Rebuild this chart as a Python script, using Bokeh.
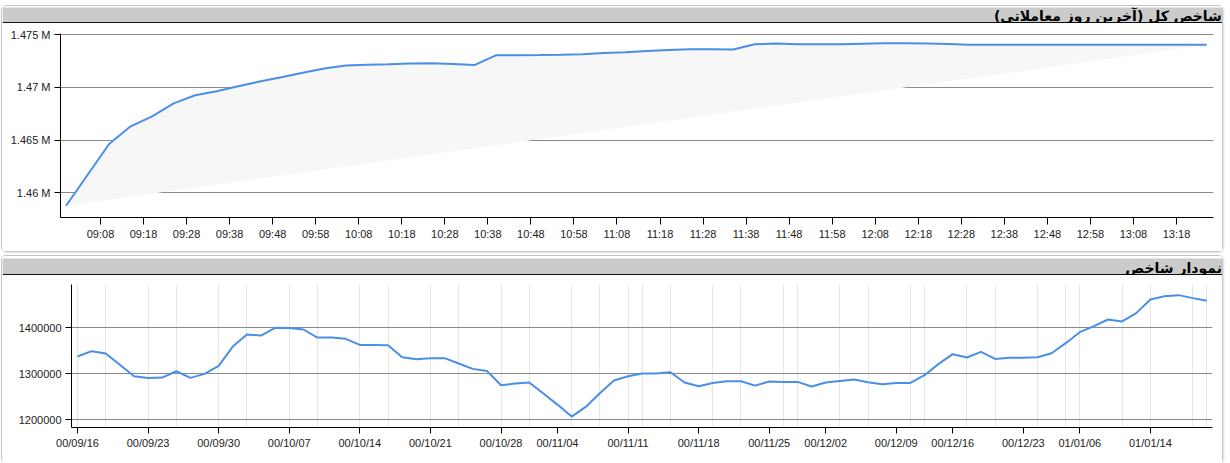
from bokeh.plotting import figure
from bokeh.models import Range1d, FixedTicker
from bokeh.layouts import column, row
from bokeh.core.properties import value
from bokeh.embed import file_html
from bokeh.resources import INLINE

# ---------------- data: intraday index (last trading day) ----------------
top_title = "شاخص کل (آخرین روز معاملاتی)\u200f"
top_times = ["09:00", "09:10", "09:15", "09:20", "09:25", "09:30", "09:35", "09:40",
             "09:45", "09:50", "09:55", "10:00", "10:05", "10:10", "10:15", "10:20",
             "10:25", "10:30", "10:35", "10:40", "10:45", "10:50", "10:55", "11:00",
             "11:05", "11:10", "11:15", "11:20", "11:25", "11:30", "11:35", "11:40",
             "11:45", "11:50", "11:55", "12:00", "12:05", "12:10", "12:15", "12:20",
             "12:25", "12:30", "12:35", "12:40", "12:45", "12:50", "12:55", "13:00",
             "13:05", "13:10", "13:15", "13:20", "13:25"]
top_values = [1458770, 1464630, 1466300, 1467250, 1468480, 1469240, 1469620, 1470090,
              1470540, 1470950, 1471370, 1471770, 1472060, 1472130, 1472180, 1472250,
              1472280, 1472200, 1472120, 1473040, 1473040, 1473050, 1473080, 1473130,
              1473240, 1473330, 1473430, 1473520, 1473610, 1473600, 1473580, 1474080,
              1474150, 1474080, 1474080, 1474080, 1474120, 1474160, 1474170, 1474150,
              1474090, 1474030, 1474020, 1474020, 1474020, 1474020, 1474020, 1474020,
              1474020, 1474020, 1474020, 1474020, 1474020]
top_x_labels = ["09:08", "09:18", "09:28", "09:38", "09:48", "09:58", "10:08", "10:18",
                "10:28", "10:38", "10:48", "10:58", "11:08", "11:18", "11:28", "11:38",
                "11:48", "11:58", "12:08", "12:18", "12:28", "12:38", "12:48", "12:58",
                "13:08", "13:18"]
top_y_ticks = [1460000, 1465000, 1470000, 1475000]
top_y_labels = ["1.46 M", "1.465 M", "1.47 M", "1.475 M"]

# ---------------- data: daily index chart ----------------
bottom_title = "نمودار شاخص"
bottom_values = [1337700, 1349300, 1344200, 1320000, 1294900, 1291300, 1292000, 1305800,
                 1291300, 1300000, 1317400, 1359400, 1385500, 1383300, 1400000, 1399600,
                 1396400, 1379000, 1379000, 1376100, 1363000, 1363000, 1362300, 1336200,
                 1331900, 1334100, 1334100, 1322500, 1310900, 1306500, 1275400, 1279000,
                 1281200, 1257300, 1233300, 1207300, 1228300, 1258000, 1285500, 1294900,
                 1300700, 1300700, 1303600, 1281200, 1273200, 1280400, 1284100, 1284100,
                 1274600, 1283300, 1282600, 1282600, 1272500, 1281200, 1284800, 1287700,
                 1281900, 1277500, 1280400, 1280400, 1297100, 1321700, 1342800, 1335500,
                 1347800, 1332600, 1334800, 1334800, 1336200, 1344900, 1366700, 1390600,
                 1403600, 1418100, 1413800, 1431900, 1461600, 1468800, 1471000, 1464500,
                 1458700]
bottom_tick_idx = [0, 5, 10, 15, 20, 25, 30, 34, 39, 44, 49, 53, 58, 62, 67, 71, 76]
bottom_tick_labels = ["00/09/16", "00/09/23", "00/09/30", "00/10/07", "00/10/14",
                      "00/10/21", "00/10/28", "00/11/04", "00/11/11", "00/11/18",
                      "00/11/25", "00/12/02", "00/12/09", "00/12/16", "00/12/23",
                      "01/01/06", "01/01/14"]
bottom_vgrid_idx = [0, 2, 5, 7, 10, 12, 15, 17, 20, 22, 25, 27, 30, 32, 35, 37, 39, 40,
                    42, 45, 47, 50, 51, 54, 56, 59, 60, 63, 65, 68, 70, 71, 74, 76, 79, 80]
bottom_y_ticks = [1200000, 1300000, 1400000]
bottom_y_labels = ["1200000", "1300000", "1400000"]

# ---------------- styling ----------------
W = 1220
LINE = "#4a8fe7"
GRID = "#8a8a8a"
LABEL_FONT = "Liberation Sans"
TITLE_FONT = "DejaVu Sans"


def to_min(s):
    h, m = s.split(":")
    return int(h) * 60 + int(m)


def make_header(text, height, white_top, black=1.5):
    h = figure(width=W, height=height, x_range=Range1d(0, 1), y_range=Range1d(0, height),
               toolbar_location=None, output_backend="svg", min_border=0,
               x_axis_location=None, y_axis_location=None,
               outline_line_color=None, background_fill_color="#ffffff",
               border_fill_color="#ffffff")
    h.grid.visible = False
    h.quad(left=[0], right=[1], bottom=[black], top=[height - white_top],
           fill_color="#cbcbcb", line_color=None)
    h.quad(left=[0], right=[1], bottom=[0], top=[black], fill_color="#111111", line_color=None)
    h.text(x=[0.9995], y=[0], text=[text], text_align="right",
           text_baseline="bottom", text_font=value(TITLE_FONT),
           text_font_size="14px", text_font_style="bold", text_color="#000000")
    return h


def style_axes(p, label_size="11px"):
    for ax in (p.xaxis[0], p.yaxis[0]):
        ax.axis_line_color = "#000000"
        ax.axis_line_width = 1
        ax.major_tick_line_color = "#000000"
        ax.minor_tick_line_color = None
        ax.major_tick_in = 0
        ax.major_label_text_font = LABEL_FONT
        ax.major_label_text_font_size = label_size
        ax.major_label_text_color = "#222222"
    p.xaxis.major_tick_out = 7
    p.xaxis.major_label_standoff = 3
    p.yaxis.major_tick_out = 6
    p.yaxis.major_label_standoff = 4


PANEL = {"border": "1px solid #c4c4c4", "border-radius": "5px",
         "box-shadow": "1px 1px 2px #dddddd", "margin-left": "1px"}

# ---------------- top panel ----------------
header1 = make_header(top_title, 17, 1)

tx = [to_min(t) for t in top_times]
p1 = figure(width=W, height=228, x_range=Range1d(538.71, 806.6),
            y_range=Range1d(1457661, 1475095), toolbar_location=None,
            output_backend="svg", min_border_left=58, min_border_right=9,
            min_border_top=10, min_border_bottom=34, outline_line_color=None,
            background_fill_color="#ffffff", border_fill_color="#ffffff")
p1.patch(x=tx, y=top_values, fill_color="#f7f7f7", line_color=None)
p1.line(x=tx, y=top_values, line_color=LINE, line_width=2)

xt1 = FixedTicker(ticks=[to_min(s) for s in top_x_labels])
p1.xaxis.ticker = xt1
p1.xaxis.major_label_overrides = {to_min(s): s for s in top_x_labels}
yt1 = FixedTicker(ticks=top_y_ticks)
p1.yaxis.ticker = yt1
p1.yaxis.major_label_overrides = dict(zip(top_y_ticks, top_y_labels))
p1.xgrid.visible = False
p1.ygrid.ticker = yt1
p1.ygrid.grid_line_color = GRID
style_axes(p1)

# ---------------- bottom panel ----------------
header2 = make_header(bottom_title, 19, 2)

bx = list(range(len(bottom_values)))
p2 = figure(width=W, height=188, x_range=Range1d(-0.425, 80.40),
            y_range=Range1d(1183600, 1494100), toolbar_location=None,
            output_backend="svg", min_border_left=69, min_border_right=10,
            min_border_top=9, min_border_bottom=36, outline_line_color=None,
            background_fill_color="#ffffff", border_fill_color="#ffffff")
p2.line(x=bx, y=bottom_values, line_color=LINE, line_width=2)

xt2 = FixedTicker(ticks=bottom_tick_idx)
p2.xaxis.ticker = xt2
p2.xaxis.major_label_overrides = dict(zip(bottom_tick_idx, bottom_tick_labels))
yt2 = FixedTicker(ticks=bottom_y_ticks)
p2.yaxis.ticker = yt2
p2.yaxis.major_label_overrides = dict(zip(bottom_y_ticks, bottom_y_labels))
p2.xgrid.ticker = FixedTicker(ticks=bottom_vgrid_idx)
p2.xgrid.grid_line_color = "#e6e6e6"
p2.ygrid.ticker = yt2
p2.ygrid.grid_line_color = GRID
style_axes(p2)
p2.xaxis.major_tick_out = 6

panel1 = column(row(header1), row(p1), spacing=0,
                styles=dict(PANEL, **{"margin-top": "5px"}))
panel2 = column(row(header2), row(p2), spacing=0,
                styles=dict(PANEL, **{"margin-top": "3px", "border-bottom": "none"}))
layout = column(panel1, panel2, spacing=0)
open("out.html", "w").write(file_html(layout, INLINE))
